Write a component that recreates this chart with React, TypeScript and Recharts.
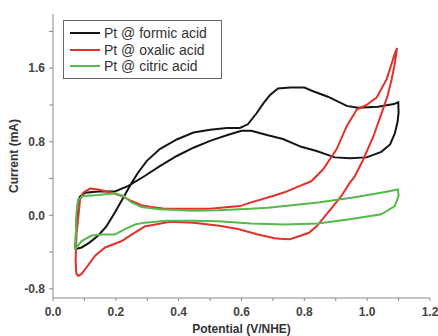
import React from 'react';
import { LineChart, Line, XAxis, YAxis, Legend } from 'recharts';

// potential (V/NHE) and current (mA), traced around each loop
const formicV = [0.07, 0.091, 0.115, 0.144, 0.17, 0.197, 0.22, 0.25, 0.27, 0.298, 0.34, 0.394, 0.447, 0.5, 0.553, 0.595, 0.62, 0.648, 0.67, 0.691, 0.716, 0.755, 0.8, 0.828, 0.875, 0.935, 0.97, 1.035, 1.085, 1.099, 1.1, 1.097, 1.088, 1.073, 1.045, 0.998, 0.945, 0.897, 0.839, 0.79, 0.732, 0.684, 0.631, 0.6, 0.553, 0.5, 0.447, 0.394, 0.34, 0.293, 0.24, 0.197, 0.144, 0.102, 0.085, 0.078, 0.074, 0.072, 0.07];
const formicI = [-0.37, -0.35, -0.3, -0.22, -0.12, 0.03, 0.17, 0.35, 0.46, 0.59, 0.72, 0.825, 0.9, 0.93, 0.95, 0.95, 0.99, 1.11, 1.22, 1.31, 1.38, 1.39, 1.39, 1.35, 1.29, 1.19, 1.17, 1.18, 1.21, 1.23, 1.12, 1.02, 0.89, 0.77, 0.69, 0.63, 0.62, 0.63, 0.7, 0.745, 0.83, 0.87, 0.92, 0.92, 0.87, 0.81, 0.735, 0.645, 0.535, 0.43, 0.32, 0.26, 0.26, 0.245, 0.2, 0.1, -0.1, -0.3, -0.37];

const oxalicV = [0.072, 0.075, 0.08, 0.086, 0.096, 0.118, 0.144, 0.187, 0.219, 0.25, 0.282, 0.309, 0.35, 0.394, 0.45, 0.5, 0.525, 0.595, 0.631, 0.7, 0.737, 0.786, 0.822, 0.86, 0.903, 0.935, 0.967, 0.998, 1.03, 1.062, 1.089, 1.095, 1.088, 1.078, 1.065, 1.05, 1.02, 0.988, 0.96, 0.945, 0.918, 0.892, 0.875, 0.839, 0.815, 0.79, 0.754, 0.72, 0.706, 0.652, 0.589, 0.53, 0.447, 0.372, 0.309, 0.293, 0.25, 0.219, 0.197, 0.166, 0.134, 0.102, 0.09, 0.08, 0.074, 0.072];
const oxalicI = [-0.5, -0.2, -0.04, 0.17, 0.245, 0.29, 0.28, 0.245, 0.21, 0.155, 0.11, 0.094, 0.075, 0.07, 0.07, 0.07, 0.08, 0.1, 0.14, 0.21, 0.25, 0.32, 0.37, 0.5, 0.72, 0.97, 1.15, 1.2, 1.28, 1.48, 1.77, 1.82, 1.65, 1.48, 1.3, 1.15, 0.86, 0.61, 0.42, 0.355, 0.21, 0.1, 0.03, -0.12, -0.19, -0.22, -0.26, -0.255, -0.25, -0.21, -0.15, -0.115, -0.08, -0.07, -0.11, -0.12, -0.21, -0.28, -0.31, -0.35, -0.44, -0.59, -0.64, -0.66, -0.63, -0.5];

const citricV = [0.07, 0.072, 0.075, 0.08, 0.096, 0.144, 0.197, 0.224, 0.25, 0.282, 0.34, 0.447, 0.525, 0.627, 0.684, 0.76, 0.844, 0.95, 1.035, 1.098, 1.1, 1.088, 1.045, 0.95, 0.844, 0.737, 0.631, 0.525, 0.45, 0.362, 0.293, 0.261, 0.229, 0.197, 0.155, 0.123, 0.091, 0.075, 0.07];
const citricI = [-0.37, -0.3, 0.03, 0.17, 0.21, 0.22, 0.24, 0.21, 0.14, 0.09, 0.065, 0.05, 0.055, 0.07, 0.083, 0.11, 0.14, 0.19, 0.24, 0.28, 0.21, 0.1, 0.01, -0.04, -0.09, -0.1, -0.09, -0.065, -0.06, -0.06, -0.08, -0.1, -0.15, -0.21, -0.21, -0.22, -0.28, -0.35, -0.37];

const seriesNames = ['Pt @ formic acid', 'Pt @ oxalic acid', 'Pt @ citric acid'];
const seriesColors = ['#151515', '#e2312b', '#55b94c'];

const xTicks = [0, 0.1, 0.2, 0.3, 0.4, 0.5, 0.6, 0.7, 0.8, 0.9, 1.0, 1.1, 1.2];
const yTicks = [-0.8, -0.4, 0, 0.4, 0.8, 1.2, 1.6, 2.0];

const toPoints = (v: number[], i: number[]) => v.map((x, k) => ({ v: x, i: i[k] }));

const series = [
  toPoints(formicV, formicI),
  toPoints(oxalicV, oxalicI),
  toPoints(citricV, citricI),
];

const FONT = '"Liberation Sans", Arial, sans-serif';
const AXIS = '#8a8a8a';
const tickStyle = { fontFamily: FONT, fontSize: 12, fontWeight: 700, fill: '#444' };

const fmtX = (v: number) => (Math.round(v * 10) % 2 === 0 ? v.toFixed(1) : '');
const fmtY = (v: number) => (Math.round(v * 10) % 8 === 0 ? v.toFixed(1) : '');

// keep the legend in series order (recharts sorts it by name otherwise)
const LegendBox = () => (
  <div
    style={{
      border: '1px solid #666',
      background: '#fff',
      padding: '4px 8px 3px 6px',
      fontFamily: FONT,
      fontSize: 14,
      color: '#333',
      width: 143,
    }}
  >
    {seriesNames.map((name, k) => (
      <div key={name} style={{ display: 'flex', alignItems: 'center', height: 16.5 }}>
        <span style={{ display: 'inline-block', width: 30, height: 2, background: seriesColors[k], marginRight: 4 }} />
        <span style={{ lineHeight: '16px' }}>{name}</span>
      </div>
    ))}
  </div>
);

export default function App() {
  return (
    <div style={{ position: 'absolute', left: 0, top: 0, background: '#fff' }}>
      <LineChart width={438} height={336} margin={{ top: 14, right: 8, bottom: 0, left: 0 }}>
        <XAxis
          type="number"
          dataKey="v"
          domain={[0, 1.2]}
          ticks={xTicks}
          tickFormatter={fmtX}
          interval={0}
          tickSize={3}
          tickMargin={6}
          height={38}
          stroke={AXIS}
          tick={tickStyle}
          label={{ value: 'Potential (V/NHE)', position: 'insideBottom', offset: 3, style: { fontFamily: FONT, fontSize: 12, fontWeight: 700, fill: '#333' } }}
        />
        <YAxis
          type="number"
          dataKey="i"
          domain={[-0.9, 2.19]}
          ticks={yTicks}
          tickFormatter={fmtY}
          interval={0}
          tickSize={4}
          tickMargin={4}
          width={53}
          stroke={AXIS}
          tick={tickStyle}
          label={{ value: 'Current (mA)', angle: -90, position: 'insideLeft', offset: 14, style: { textAnchor: 'middle', fontFamily: FONT, fontSize: 12, fontWeight: 700, fill: '#333' } }}
        />
        <XAxis xAxisId="top" orientation="top" type="number" domain={[0, 1.2]} tick={false} tickLine={false} height={0} stroke={AXIS} />
        <YAxis yAxisId="right" orientation="right" type="number" domain={[-0.9, 2.19]} tick={false} tickLine={false} width={0} stroke={AXIS} />
        <Legend
          layout="vertical"
          align="center"
          verticalAlign="middle"
          wrapperStyle={{ left: 63, top: 20, width: 'auto' }}
          content={<LegendBox />}
        />
        {series.map((pts, k) => (
          <Line
            key={seriesNames[k]}
            data={pts}
            dataKey="i"
            name={seriesNames[k]}
            type="linear"
            stroke={seriesColors[k]}
            strokeWidth={2}
            dot={false}
            activeDot={false}
            isAnimationActive={false}
          />
        ))}
      </LineChart>
    </div>
  );
}
